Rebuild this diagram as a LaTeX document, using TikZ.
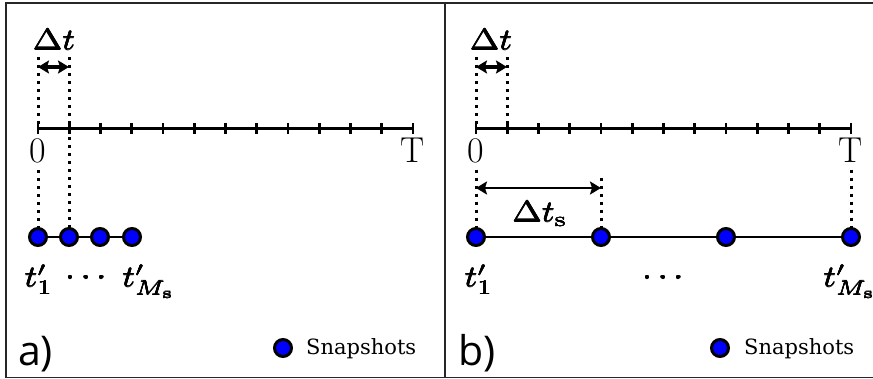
\RequirePackage{fix-cm}
\documentclass[tikz,border=0pt]{standalone}
\usepackage{fontspec}
\usepackage{graphicx}
\usetikzlibrary{arrows.meta}
\newfontfamily\panelfont{Open Sans}
\newfontfamily\legendfont{DejaVu Serif}
\newcommand\heavytxt[1]{\leavevmode\rlap{\hspace{0.22pt}#1}\rlap{\hspace{-0.22pt}#1}\rlap{\raisebox{0.22pt}{#1}}\rlap{\raisebox{-0.22pt}{#1}}#1}
\newcommand\mth[1]{\heavytxt{\scalebox{3.55}[2.95]{$#1$}}}
\definecolor{snapblue}{RGB}{0,0,255}
\tikzset{
  frame/.style={draw=black!85, line width=1.2pt},
  axisline/.style={line width=3.4pt},
  tickline/.style={line width=2.8pt},
  dotline/.style={line width=3pt, dash pattern=on 3pt off 5pt},
  chain/.style={line width=2.8pt},
  dblarrow/.style={line width=3.2pt, {Stealth[length=11pt,width=13pt,inset=2pt]}-{Stealth[length=11pt,width=13pt,inset=2pt]}},
  snap/.style={circle, fill=snapblue, draw=black, line width=3pt, minimum size=17pt, inner sep=0pt},
  mathlab/.style={inner sep=0pt, font=\fontsize{10}{12}\selectfont},
  axislab/.style={inner sep=0pt, anchor=base, font=\fontsize{36}{40}\selectfont},
  panellab/.style={inner sep=0pt, anchor=base west, font=\panelfont\fontsize{41}{44}\selectfont},
  legendlab/.style={inner sep=0pt, anchor=base west, font=\legendfont\fontsize{21}{24}\selectfont},
}
\begin{document}
\begin{tikzpicture}[x=1pt, y=-1pt]
\useasboundingbox (0,0) rectangle (873,379);
\clip (0,0) rectangle (873,379);
% frame
\draw[frame] (6,3) rectangle (895,377.5);
\coordinate (divtop) at (445,3);
\coordinate (divbot) at (445,377.5);
\draw[frame] (divtop) -- (divbot);

% ================= panel a =================
\coordinate (a0) at (38,128.5);
\coordinate (aT) at (413,128.5);
\draw[axisline] (a0) -- (aT);
\foreach \i in {0,...,12} \draw[tickline] (38+\i*31.25,123) -- (38+\i*31.25,134);
\coordinate (aD0) at (38,57);
\coordinate (aD1) at (69,57);
\coordinate (aL0) at (38,170);
\coordinate (ac1) at (38,237);
\coordinate (ac2) at (69,237);
\coordinate (ac3) at (100,237);
\coordinate (ac4) at (132,237);
\draw[dotline] (aD0) -- (a0);
\draw[dotline] (aD1) -- (ac2);
\draw[dotline] (aL0) -- (ac1);
\coordinate (aA0) at (38,67);
\coordinate (aA1) at (69,67);
\draw[dblarrow] (aA0) -- (aA1);
\draw[chain] (ac1) -- (ac4);
\node[snap] (as1) at (ac1) {};
\node[snap] (as2) at (ac2) {};
\node[snap] (as3) at (ac3) {};
\node[snap] (as4) at (ac4) {};
\node[mathlab, anchor=base] (adt) at (54,50) {\mth{\Delta t}};
\node[axislab] (azero) at (38,163) {0};
\node[axislab] (aTlab) at (413,163) {T};
\node[mathlab, anchor=base] (at1) at (39,287) {\mth{t'_1}};
\node[mathlab, anchor=base] (adots) at (86,285) {\mth{\cdots}};
\node[mathlab, anchor=base] (atM) at (149,287) {\mth{t'_{M_{\mathrm{s}}}}};
\node[panellab] (alab) at (18,365) {a)};
\node[snap] (aleg) at (283,348) {};
\node[legendlab] (alegtxt) at (306,355) {Snapshots};

% ================= panel b =================
\coordinate (b0) at (476,128.5);
\coordinate (bT) at (851,128.5);
\draw[axisline] (b0) -- (bT);
\foreach \i in {0,...,12} \draw[tickline] (476+\i*31.25,123) -- (476+\i*31.25,134);
\coordinate (bD0) at (476,57);
\coordinate (bD1) at (507,57);
\coordinate (bD1ax) at (507,128.5);
\draw[dotline] (bD0) -- (b0);
\draw[dotline] (bD1) -- (bD1ax);
\coordinate (bA0) at (476,67);
\coordinate (bA1) at (507,67);
\draw[dblarrow] (bA0) -- (bA1);
\coordinate (bc1) at (476,237);
\coordinate (bc2) at (601,237);
\coordinate (bc3) at (726,237);
\coordinate (bc4) at (851,237);
\coordinate (bL0) at (476,170);
\coordinate (bL1) at (601,178);
\coordinate (bL2) at (851,170);
\draw[dotline] (bL0) -- (bc1);
\draw[dotline] (bL1) -- (bc2);
\draw[dotline] (bL2) -- (bc4);
\coordinate (bS0) at (476,188);
\coordinate (bS1) at (601,188);
\draw[dblarrow, line width=2.8pt] (bS0) -- (bS1);
\draw[chain] (bc1) -- (bc4);
\node[snap] (bs1) at (bc1) {};
\node[snap] (bs2) at (bc2) {};
\node[snap] (bs3) at (bc3) {};
\node[snap] (bs4) at (bc4) {};
\node[mathlab, anchor=base] (bdt) at (491,50) {\mth{\Delta t}};
\node[mathlab, anchor=base] (bdts) at (540,222) {\mth{\Delta t_{\mathrm{s}}}};
\node[axislab] (bzero) at (476,163) {0};
\node[axislab] (bTlab) at (851,163) {T};
\node[mathlab, anchor=base] (bt1) at (479,287) {\mth{t'_1}};
\node[mathlab, anchor=base] (bdots) at (663,285) {\mth{\cdots}};
\node[mathlab, anchor=base] (btM) at (850,287) {\mth{t'_{M_{\mathrm{s}}}}};
\node[panellab] (blab) at (458,365) {b)};
\node[snap] (bleg) at (720,348) {};
\node[legendlab] (blegtxt) at (744,355) {Snapshots};
\end{tikzpicture}
\end{document}
